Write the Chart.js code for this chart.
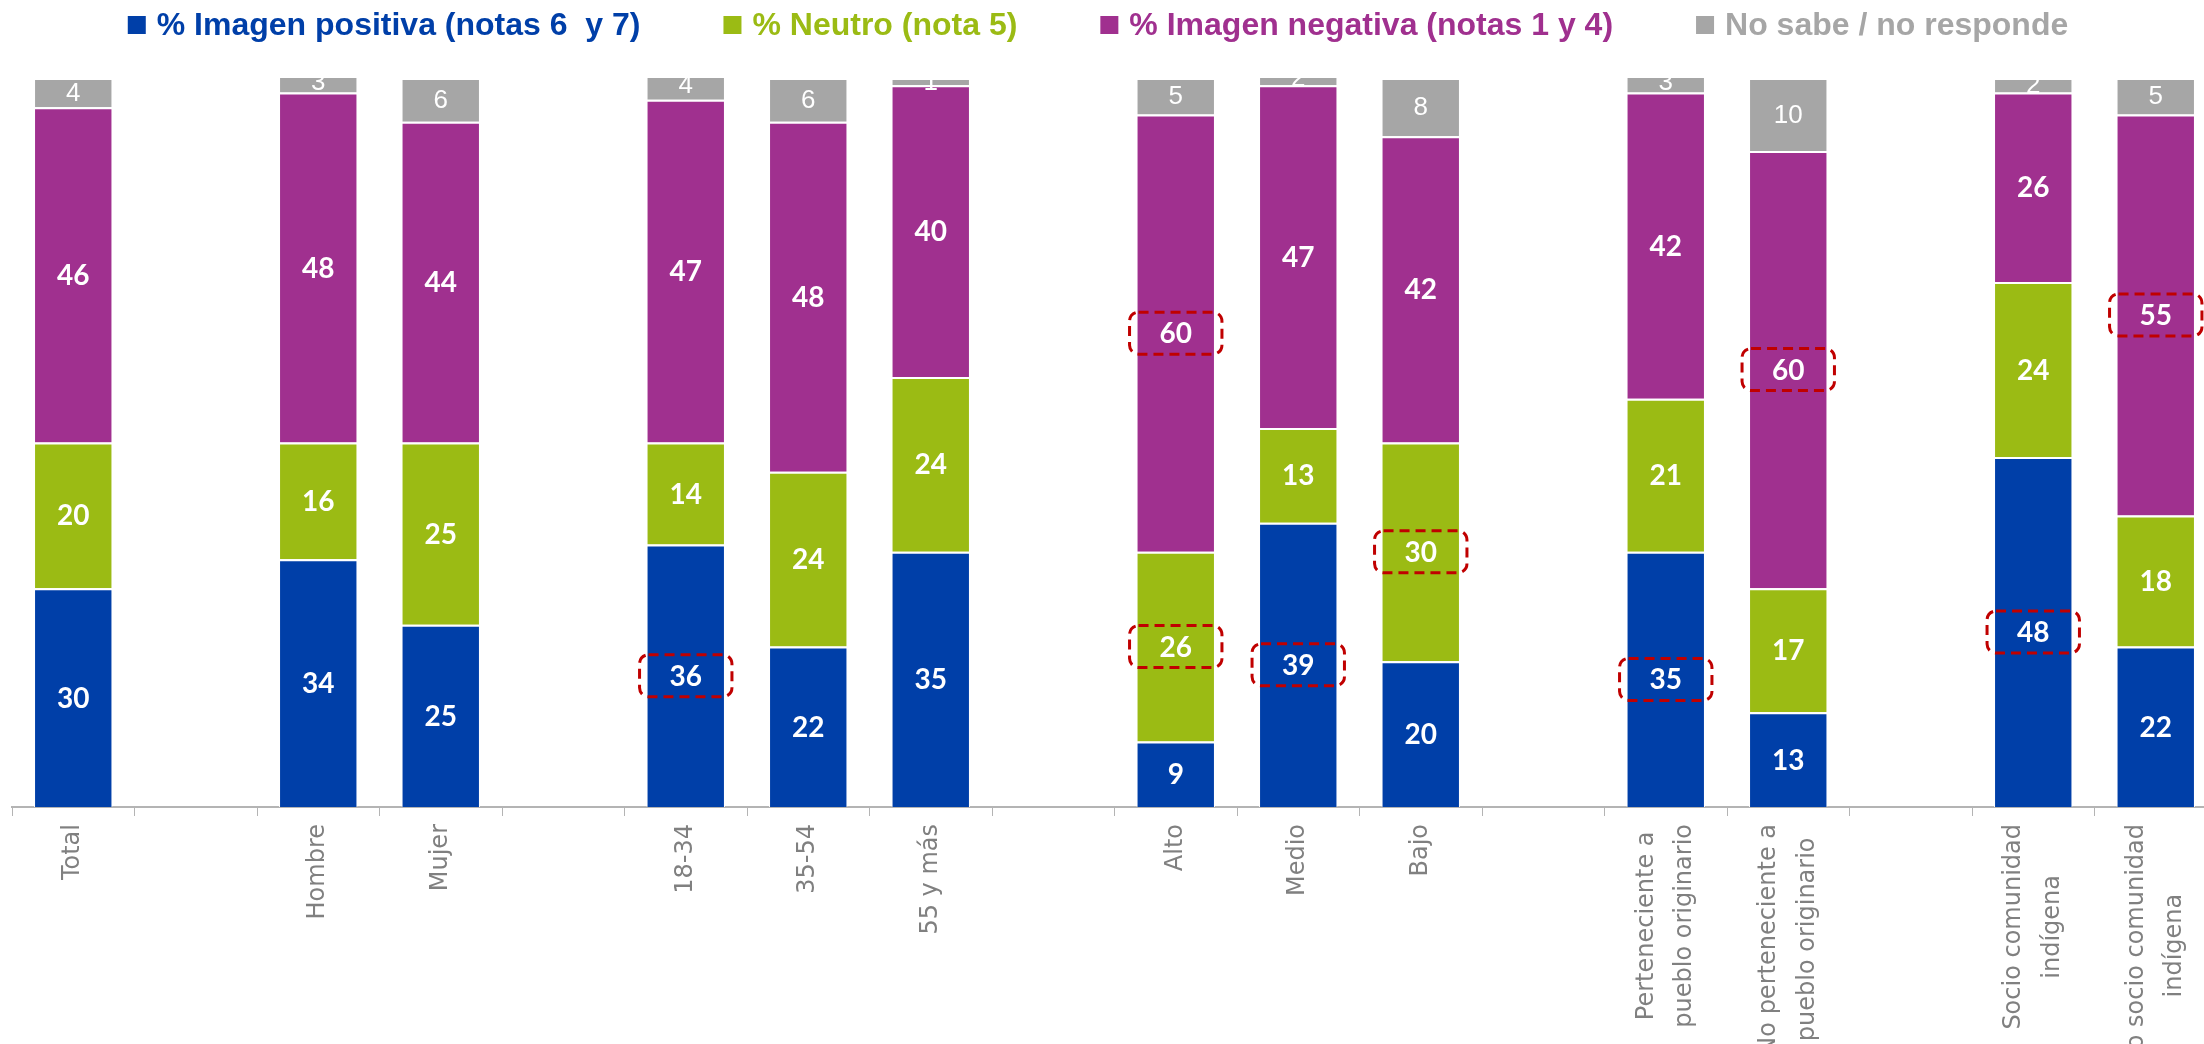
<!DOCTYPE html>
<html>
<head>
<meta charset="utf-8">
<script src="https://cdn.jsdelivr.net/npm/chart.js"></script>
<style>
  html, body { margin: 0; padding: 0; overflow: hidden; background: #fff; }
  #wrap { width: 2220px; height: 1044px; position: relative; }
</style>
</head>
<body>
<div id="wrap"><canvas id="imageChart"></canvas></div>
<script>
// empty strings / nulls are the gaps between groups
const categories = [
  "Total", "", "Hombre", "Mujer", "", "18-34", "35-54", "55 y más", "",
  "Alto", "Medio", "Bajo", "",
  ["Perteneciente a", "pueblo originario"], ["No perteneciente a", "pueblo originario"], "",
  ["Socio comunidad", "indígena"], ["No socio comunidad", "indígena"]
];
const positiva = [30, null, 34, 25, null, 36, 22, 35, null, 9, 39, 20, null, 35, 13, null, 48, 22];
const neutro   = [20, null, 16, 25, null, 14, 24, 24, null, 26, 13, 30, null, 21, 17, null, 24, 18];
const negativa = [46, null, 48, 44, null, 47, 48, 40, null, 60, 47, 42, null, 42, 60, null, 26, 55];
const nsnr     = [4, null, 3, 6, null, 4, 6, 1, null, 5, 2, 8, null, 3, 10, null, 2, 5];

const seriesNames = [
  "% Imagen positiva (notas 6  y 7)",
  "% Neutro (nota 5)",
  "% Imagen negativa (notas 1 y 4)",
  "No sabe / no responde"
];
const colors = ["#003FA8", "#9BBB14", "#A0308F", "#A6A6A6"];

// [series index, category index] of the labels circled in red
const highlighted = [[0, 5], [2, 9], [1, 9], [0, 10], [1, 11], [0, 13], [2, 14], [0, 16], [2, 17]];

// draw value labels + red dashed boxes
const segmentLabels = {
  id: "segmentLabels",
  afterDatasetsDraw(chart) {
    const { ctx, chartArea } = chart;
    ctx.save();
    ctx.beginPath();
    ctx.rect(chartArea.left, chartArea.top, chartArea.right - chartArea.left, chartArea.bottom - chartArea.top);
    ctx.clip();
    ctx.fillStyle = "#ffffff";
    ctx.textAlign = "center";
    ctx.textBaseline = "middle";
    chart.data.datasets.forEach((ds, di) => {
      const meta = chart.getDatasetMeta(di);
      ctx.font = di === 3 ? '26px "Liberation Sans"' : 'bold 28px Lato';
      meta.data.forEach((bar, i) => {
        const v = ds.data[i];
        if (v === null || v === undefined) return;
        ctx.fillText(String(v), bar.x, (bar.y + bar.base) / 2 + 1);
      });
    });
    ctx.restore();

    ctx.save();
    ctx.strokeStyle = "#C00000";
    ctx.lineWidth = 3;
    ctx.setLineDash([10, 6]);
    highlighted.forEach(([di, i]) => {
      const bar = chart.getDatasetMeta(di).data[i];
      const cy = (bar.y + bar.base) / 2;
      const w = bar.width + 14, h = 42;
      ctx.beginPath();
      ctx.roundRect(bar.x - w / 2, cy - h / 2, w, h, 9);
      ctx.stroke();
    });
    ctx.restore();
  }
};

// rotated multi-line tick labels: center the block on the tick and the lines on each other
const centerTickLines = {
  id: "centerTickLines",
  beforeDraw(chart) {
    const scale = chart.scales.x;
    const items = scale.getLabelItems();
    if (items._centered) return;
    const ctx = chart.ctx;
    items.forEach((item) => {
      if (!Array.isArray(item.label)) return;
      ctx.font = item.font.string;
      const maxW = Math.max(...item.label.map((l) => ctx.measureText(l).width));
      item.options.textAlign = "center";
      item.options.translation[1] += maxW / 2;
      item.options.translation[0] -= (item.label.length - 1) * item.font.lineHeight / 2;
    });
    items._centered = true;
  }
};

const topLegend = {
  id: "topLegend",
  afterDraw(chart) {
    const ctx = chart.ctx;
    ctx.save();
    ctx.font = 'bold 32px "Liberation Sans"';
    ctx.textBaseline = "middle";
    ctx.textAlign = "left";
    const box = 18, boxGap = 11, itemGap = 83, cy = 25;
    const widths = seriesNames.map((n) => ctx.measureText(n).width);
    const total = widths.reduce((a, w) => a + box + boxGap + w, 0) + itemGap * (seriesNames.length - 1);
    let x = window.innerWidth / 2 - total / 2 - 4;
    seriesNames.forEach((name, i) => {
      ctx.fillStyle = colors[i];
      ctx.fillRect(x, cy - box / 2, box, box);
      ctx.fillText(name, x + box + boxGap, cy + 1);
      x += box + boxGap + widths[i] + itemGap;
    });
    ctx.restore();
  }
};

const seriesData = [positiva, neutro, negativa, nsnr];

const ctx = document.getElementById("imageChart").getContext("2d");
const myChart = new Chart(ctx, {
  type: "bar",
  data: {
    labels: categories,
    datasets: seriesData.map((d, i) => ({
      label: seriesNames[i],
      data: d,
      backgroundColor: colors[i],
      borderColor: "#ffffff",
      borderWidth: { top: 2, left: 1, right: 1, bottom: 0 },
      borderSkipped: false,
      barPercentage: 0.64,
      categoryPercentage: 1,
    })),
  },
  options: {
    responsive: true,
    maintainAspectRatio: false,
    animation: false,
    layout: {
      autoPadding: false,
      padding: { top: 78, left: 12, right: 3, bottom: 0 },
    },
    plugins: {
      legend: { display: false },
      tooltip: { enabled: false },
    },
    scales: {
      x: {
        stacked: true,
        grid: {
          offset: true,
          drawOnChartArea: false,
          drawTicks: true,
          tickLength: 9,
          color: "#b4b4b4",
        },
        border: { display: true, color: "#b4b4b4", width: 2 },
        ticks: {
          autoSkip: false,
          minRotation: 90,
          maxRotation: 90,
          padding: 8,
          color: "#808080",
          font: { family: "DejaVu Sans", size: 24, lineHeight: 1.6 },
        },
        afterFit(scale) {
          scale.height = 237;
          scale.paddingLeft = 0;
          scale.paddingRight = 0;
        },
      },
      y: {
        stacked: true,
        display: false,
        min: 0,
        max: 100,
      },
    },
  },
  plugins: [centerTickLines, segmentLabels, topLegend],
});
</script>
</body>
</html>
